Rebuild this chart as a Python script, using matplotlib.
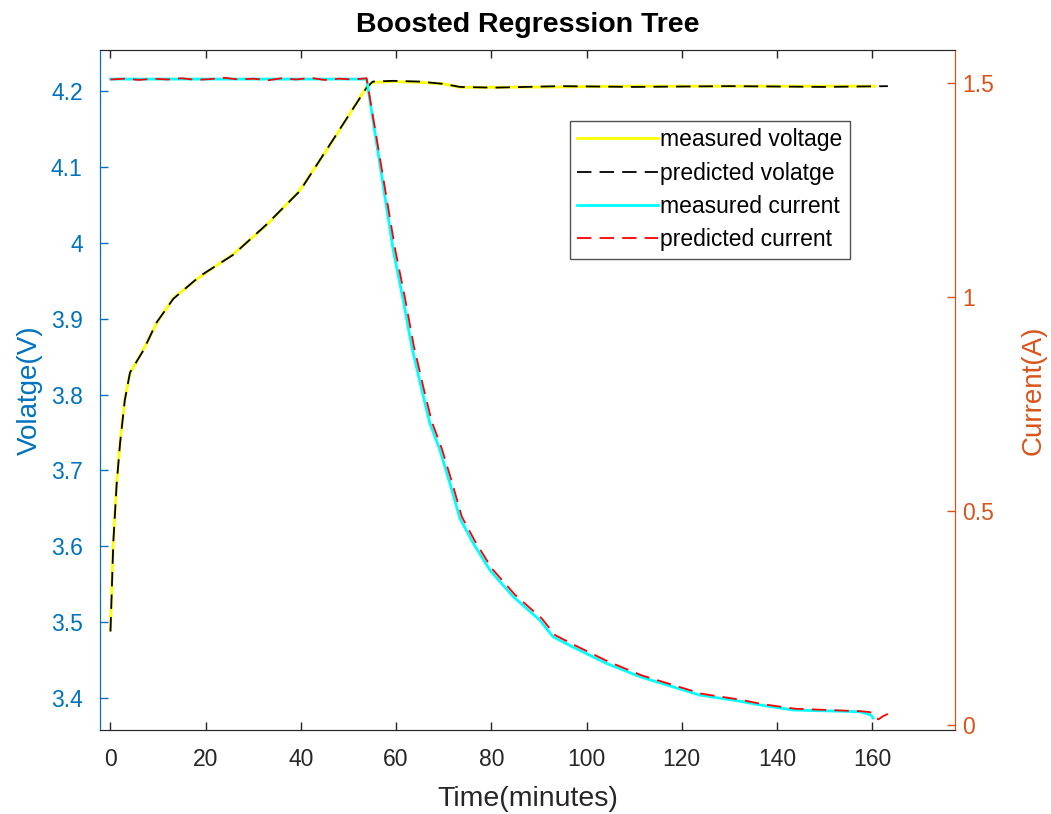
import matplotlib
matplotlib.use("Agg")
import matplotlib.pyplot as plt

plt.rcParams['font.family'] = ['Liberation Sans', 'DejaVu Sans']

# ---- data ----
t_v_meas = [0.0, 0.6, 1.3, 2.0, 3.0, 4.1, 6.9, 9.7, 13.2, 18.8, 25.8, 32.8, 39.8,
            46.8, 53.8, 55.1, 59.4, 65.0, 69.9, 73.4, 80.4, 94.4, 110.0, 130.0, 150.0, 160.5]
v_meas = [3.490, 3.608, 3.683, 3.736, 3.793, 3.828, 3.859, 3.894, 3.927, 3.955, 3.985,
          4.023, 4.069, 4.135, 4.205, 4.211, 4.212, 4.211, 4.209, 4.2045, 4.2045, 4.205,
          4.206, 4.206, 4.206, 4.206]

t_v_pred = [0.0, 0.6, 1.3, 2.0, 3.0, 4.1, 6.9, 9.7, 13.2, 18.8, 25.8, 32.8, 39.8,
            46.8, 53.8, 55.1, 59.4, 65.0, 69.9, 73.4, 80.4, 94.4, 110.0, 130.0, 150.0, 163.3]
v_pred = [3.488, 3.606, 3.682, 3.735, 3.792, 3.829, 3.858, 3.895, 3.926, 3.956, 3.984,
          4.024, 4.068, 4.136, 4.204, 4.212, 4.213, 4.212, 4.209, 4.205, 4.204, 4.206,
          4.205, 4.206, 4.205, 4.206]

t_i_meas = [0.0, 10.0, 20.0, 30.0, 40.0, 50.0, 53.8, 59.4, 61.5, 63.3, 65.4, 67.1, 69.2,
            71.3, 73.4, 76.2, 79.7, 84.6, 90.2, 93.0, 97.2, 104.2, 111.2, 118.2, 123.8,
            132.0, 136.4, 143.4, 150.5, 157.5, 159.8, 160.2]
i_meas = [1.510, 1.510, 1.510, 1.510, 1.510, 1.510, 1.510, 1.110, 0.993, 0.884, 0.783,
          0.705, 0.643, 0.565, 0.483, 0.425, 0.362, 0.300, 0.245, 0.206, 0.182, 0.144,
          0.113, 0.089, 0.070, 0.056, 0.047, 0.035, 0.033, 0.031, 0.023, 0.016]

t_i_pred = [0.0, 3.0, 6.0, 9.0, 12.0, 15.0, 18.0, 21.0, 24.0, 27.0, 30.0, 33.0, 36.0,
            39.0, 42.0, 45.0, 48.0, 51.0, 53.8, 59.8, 61.9, 63.7, 65.8, 67.5, 69.6, 71.7,
            73.8, 76.6, 80.1, 85.0, 90.6, 93.4, 97.6, 104.6, 111.6, 118.6, 124.2, 132.4,
            136.8, 143.8, 150.9, 157.9, 159.6, 161.3, 162.2, 163.3]
i_pred = [1.509, 1.511, 1.508, 1.511, 1.509, 1.512, 1.508, 1.510, 1.513, 1.509, 1.511,
          1.507, 1.512, 1.509, 1.513, 1.508, 1.511, 1.509, 1.512, 1.112, 0.996, 0.887,
          0.786, 0.709, 0.646, 0.569, 0.487, 0.429, 0.366, 0.304, 0.249, 0.210, 0.186,
          0.148, 0.116, 0.092, 0.073, 0.059, 0.049, 0.038, 0.035, 0.032, 0.030, 0.013,
          0.020, 0.026]

x_ticks = [0, 20, 40, 60, 80, 100, 120, 140, 160]
v_ticks = [3.4, 3.5, 3.6, 3.7, 3.8, 3.9, 4.0, 4.1, 4.2]
v_tick_labels = ['3.4', '3.5', '3.6', '3.7', '3.8', '3.9', '4', '4.1', '4.2']
i_ticks = [0, 0.5, 1.0, 1.5]
i_tick_labels = ['0', '0.5', '1', '1.5']

BLUE = '#0072BD'
ORANGE = '#D95319'
DARK = '#262626'
DASH = (0, (8, 4.5))

fig = plt.figure(figsize=(10.51, 8.14), dpi=100)
ax = fig.add_axes([100/1051, 1 - 730/814, 855/1051, 680/814])
ax2 = ax.twinx()

l1, = ax.plot(t_v_meas, v_meas, color='#FFFF00', lw=2.0, label='measured voltage')
l2, = ax.plot(t_v_pred, v_pred, color='black', lw=1.3, ls=DASH, label='predicted volatge')
l3, = ax2.plot(t_i_meas, i_meas, color='#00FFFF', lw=2.0, label='measured current')
l4, = ax2.plot(t_i_pred, i_pred, color='#FF0000', lw=1.3, ls=DASH, label='predicted current')

ax.set_xlim(-2.2, 177.4)
ax.set_ylim(3.3583, 4.2536)
ax2.set_ylim(-0.0117, 1.578)

ax.set_xticks(x_ticks)
ax.set_yticks(v_ticks)
ax.set_yticklabels(v_tick_labels)
ax2.set_yticks(i_ticks)
ax2.set_yticklabels(i_tick_labels)

ax.tick_params(axis='x', direction='in', length=6, width=1, colors=DARK, labelsize=16.5,
               top=True, pad=13)
ax.tick_params(axis='y', direction='in', length=6, width=1, colors=BLUE, labelsize=16.5,
               right=False, pad=12.5)
ax2.tick_params(axis='y', direction='in', length=6, width=1, colors=ORANGE, labelsize=16.5,
                left=False, pad=5)

for a in (ax, ax2):
    a.spines['top'].set_color(DARK)
    a.spines['bottom'].set_color(DARK)
    a.spines['left'].set_color(BLUE)
    a.spines['right'].set_color(ORANGE)

ax.set_xlabel('Time(minutes)', fontsize=20.5, color=DARK, labelpad=11)
ax.set_ylabel('Volatge(V)', fontsize=20, color=BLUE, labelpad=6)
ax2.set_ylabel('Current(A)', fontsize=20, color=ORANGE, labelpad=19)
ax.set_title('Boosted Regression Tree', fontsize=20.5, fontweight='bold', color='black', pad=13)

leg = ax2.legend(handles=[l1, l2, l3, l4], loc='upper left',
                 bbox_to_anchor=(0.5497, 0.8956), fontsize=16.5, frameon=True,
                 fancybox=False, edgecolor=DARK, handlelength=3.5, handletextpad=0.12,
                 labelspacing=0.45, borderpad=0.32, borderaxespad=0)
leg.get_frame().set_linewidth(1.0)

fig.savefig('out.png', dpi=100)
